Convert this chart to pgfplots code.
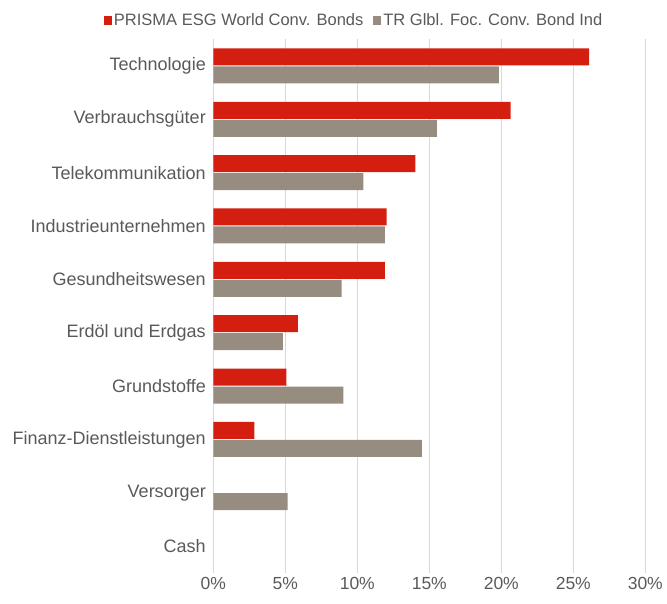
\documentclass[border=0pt]{standalone}
\usepackage{fontspec}
\setmainfont{Liberation Sans}
\usepackage{pgfplots}
\pgfplotsset{compat=1.18}
\definecolor{cred}{HTML}{D41E10}
\definecolor{cgray}{HTML}{978C80}
\definecolor{ctext}{HTML}{595959}
\definecolor{cgrid}{HTML}{D9D9D9}
\begin{document}
\begin{tikzpicture}
\path[use as bounding box] (0,0) rectangle (667pt,603pt);
\begin{axis}[
  at={(213.3pt,30.3pt)}, anchor=south west,
  width=432pt, height=533.4pt, scale only axis,
  xmin=0, xmax=30, ymin=-0.5, ymax=9.5,
  xtick={0,5,...,30},
  xticklabel={\pgfmathprintnumber{\tick}\%},
  /pgf/number format/assume math mode=true,
  ytick={0,...,9},
  yticklabels={Cash,Versorger,Finanz-Dienstleistungen,Grundstoffe,Erdöl und Erdgas,Gesundheitswesen,Industrieunternehmen,Telekommunikation,Verbrauchsgüter,Technologie},
  tick label style={text=ctext},
  yticklabel style={xshift=-4pt, font=\fontsize{18}{21}\selectfont},
  xticklabel style={yshift=-1pt, font=\fontsize{17.5}{20}\selectfont},
  axis line style={draw=none},
  major tick length=0pt,
  xmajorgrids, major grid style={cgrid, line width=1.2pt},
  xbar, bar width=17pt,
  legend columns=2,
  legend style={draw=none, fill=none, at={(0.326,1.036)}, anchor=center,
    font=\fontsize{16.5}{19}\selectfont, text=ctext,
    /tikz/every even column/.append style={column sep=8pt}},
  legend image code/.code={\fill[#1] (0pt,-4.5pt) rectangle (8pt,4.5pt);},
]
\addplot[fill=cred, draw=none, bar shift=9pt] coordinates {
 (2.85,2) (5.07,3) (5.88,4) (11.92,5) (12.04,6) (14.03,7) (20.65,8) (26.1,9)};
\addlegendentry{PRISMA ESG World Conv. Bonds}
\addplot[fill=cgray, draw=none, bar shift=-9pt] coordinates {
 (5.16,1) (14.49,2) (9.03,3) (4.84,4) (8.91,5) (11.92,6) (10.42,7) (15.53,8) (19.84,9)};
\addlegendentry{TR Glbl. Foc. Conv. Bond Ind}
\end{axis}
\end{tikzpicture}
\end{document}
